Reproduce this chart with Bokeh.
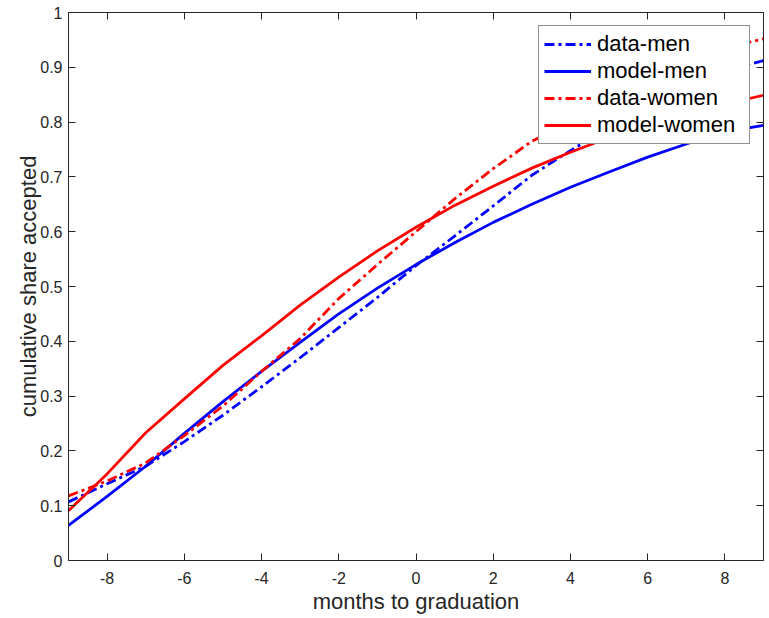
from bokeh.plotting import figure
from bokeh.models import LinearAxis, FixedTicker, Legend, LegendItem, Range1d
from bokeh.embed import file_html
from bokeh.resources import INLINE

months = [-9, -8, -7, -6, -5, -4, -3, -2, -1, 0, 1, 2, 3, 4, 5, 6, 7, 8, 9]
data_men = [0.107, 0.140, 0.172, 0.217, 0.265, 0.317, 0.370, 0.425, 0.480, 0.538,
            0.592, 0.647, 0.703, 0.748, 0.790, 0.830, 0.860, 0.895, 0.912]
model_men = [0.064, 0.117, 0.172, 0.232, 0.290, 0.345, 0.398, 0.450, 0.497, 0.540,
             0.580, 0.617, 0.650, 0.681, 0.709, 0.736, 0.760, 0.782, 0.794]
data_women = [0.118, 0.145, 0.178, 0.228, 0.282, 0.345, 0.405, 0.478, 0.540, 0.600,
              0.660, 0.715, 0.765, 0.800, 0.840, 0.875, 0.905, 0.935, 0.952]
model_women = [0.091, 0.158, 0.233, 0.295, 0.356, 0.410, 0.466, 0.517, 0.565, 0.608,
               0.648, 0.683, 0.716, 0.745, 0.772, 0.795, 0.815, 0.833, 0.849]

x_ticks = [-8, -6, -4, -2, 0, 2, 4, 6, 8]
x_tick_labels = ["-8", "-6", "-4", "-2", "0", "2", "4", "6", "8"]
y_ticks = [0, 0.1, 0.2, 0.3, 0.4, 0.5, 0.6, 0.7, 0.8, 0.9, 1]
y_tick_labels = ["0", "0.1", "0.2", "0.3", "0.4", "0.5", "0.6", "0.7", "0.8", "0.9", "1"]

FONT = "Liberation Sans"
AX = "#262626"

p = figure(width=769, height=618, output_backend="svg", toolbar_location=None,
           x_range=Range1d(-9, 9), y_range=Range1d(0, 1),
           min_border_left=68, min_border_right=6, min_border_top=12, min_border_bottom=58)
p.outline_line_color = None
p.grid.visible = False
p.background_fill_color = "white"

def style_axis(ax, labels=True):
    ax.axis_line_color = AX
    ax.axis_line_width = 1
    ax.major_tick_line_color = AX
    ax.major_tick_in = 7
    ax.major_tick_out = 0
    ax.minor_tick_line_color = None
    ax.major_label_text_font = FONT
    ax.major_label_text_color = AX if labels else None
    ax.major_label_text_font_size = "16px" if labels else "0px"
    ax.axis_label_text_font = FONT
    ax.axis_label_text_font_style = "normal"
    ax.axis_label_text_color = AX
    ax.axis_label_text_font_size = "22px"

xa = p.xaxis[0]
ya = p.yaxis[0]
xa.ticker = FixedTicker(ticks=x_ticks)
ya.ticker = FixedTicker(ticks=y_ticks)
xa.major_label_overrides = {t: l for t, l in zip(x_ticks, x_tick_labels)}
ya.major_label_overrides = {t: l for t, l in zip(y_ticks, y_tick_labels)}
style_axis(xa)
style_axis(ya)
xa.axis_label = "months to graduation"
ya.axis_label = "cumulative share accepted"
xa.major_label_standoff = 11
xa.axis_label_standoff = 2
ya.major_label_standoff = 6
ya.axis_label_standoff = -4

top = LinearAxis(ticker=FixedTicker(ticks=x_ticks), major_label_standoff=0)
right = LinearAxis(ticker=FixedTicker(ticks=y_ticks), major_label_standoff=0)
style_axis(top, labels=False)
style_axis(right, labels=False)
p.add_layout(top, "above")
p.add_layout(right, "right")

lw = 2.8
dash = "10 4 3 4"
r1 = p.line(months, data_men, line_color="#0000ff", line_width=lw, line_dash=dash)
r2 = p.line(months, model_men, line_color="#0000ff", line_width=lw)
r3 = p.line(months, data_women, line_color="#ff0000", line_width=lw, line_dash=dash)
r4 = p.line(months, model_women, line_color="#ff0000", line_width=lw)

legend = Legend(items=[LegendItem(label="data-men", renderers=[r1]),
                       LegendItem(label="model-men", renderers=[r2]),
                       LegendItem(label="data-women", renderers=[r3]),
                       LegendItem(label="model-women", renderers=[r4])],
                location="top_right")
legend.margin = 13
legend.padding = 5
legend.spacing = 1
legend.glyph_width = 47
legend.label_standoff = 6
legend.label_width = 147
legend.label_text_font = FONT
legend.label_text_font_size = "22px"
legend.label_text_color = "#000000"
legend.border_line_color = AX
legend.border_line_width = 1
legend.background_fill_color = "white"
legend.background_fill_alpha = 1
p.add_layout(legend)

open("out.html", "w").write(file_html(p, INLINE))
